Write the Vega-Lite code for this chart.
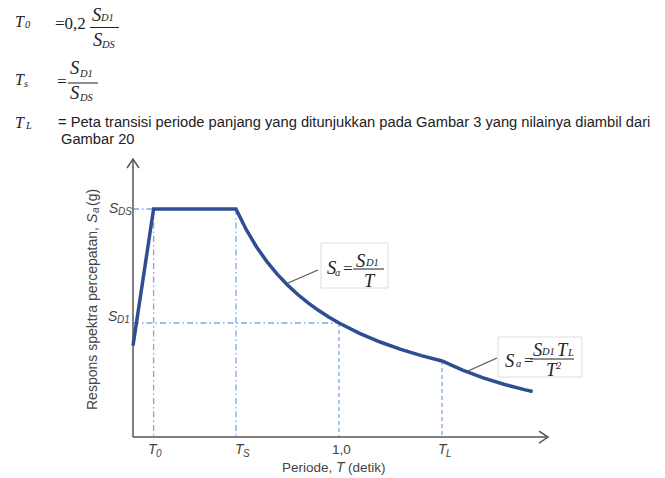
{
  "$schema": "https://vega.github.io/schema/vega-lite/v6.json",
  "width": 665,
  "height": 478,
  "autosize": {"type": "none"},
  "padding": 0,
  "background": "white",
  "config": {"view": {"stroke": null}},
  "encoding": {
    "x": {"field": "T", "type": "quantitative", "scale": {"domain": [-0.6456, 2.5825], "nice": false, "zero": false}, "axis": null},
    "y": {"field": "S", "type": "quantitative", "scale": {"domain": [-0.1798, 1.9167], "nice": false, "zero": false}, "axis": null}
  },
  "layer": [
    {
      "data": {"values": [
        {"T": 0, "S": 1, "T2": 0.1, "S2": 1},
        {"T": 0.1, "S": 1, "T2": 0.1, "S2": 0},
        {"T": 0.5, "S": 1, "T2": 0.5, "S2": 0},
        {"T": 0, "S": 0.5, "T2": 1.0, "S2": 0.5}
      ]},
      "mark": {"type": "rule", "color": "#7fa7e3", "strokeWidth": 1.3, "strokeDash": [6, 3, 1.5, 3]},
      "encoding": {"x2": {"field": "T2"}, "y2": {"field": "S2"}}
    },
    {
      "data": {"values": [
        {"T": 1.0, "S": 0.5, "T2": 1.0, "S2": 0},
        {"T": 1.5, "S": 0.3333, "T2": 1.5, "S2": 0}
      ]},
      "mark": {"type": "rule", "color": "#7fa7e3", "strokeWidth": 1.3, "strokeDash": [4, 3]},
      "encoding": {"x2": {"field": "T2"}, "y2": {"field": "S2"}}
    },
    {
      "data": {"values": [
        {"T": 0, "S": 0, "T2": 0, "S2": 1.2193},
        {"T": 0, "S": 0, "T2": 2.0146, "S2": 0}
      ]},
      "mark": {"type": "rule", "color": "#555555", "strokeWidth": 1.5},
      "encoding": {"x2": {"field": "T2"}, "y2": {"field": "S2"}}
    },
    {
      "data": {"values": [{"T": 0, "S": 1.2193}]},
      "mark": {"type": "point", "shape": "M-0.6,0.9L0,0L0.6,0.9", "size": 400, "filled": false, "color": "#555555", "strokeWidth": 1.5, "opacity": 1}
    },
    {
      "data": {"values": [{"T": 2.0146, "S": 0}]},
      "mark": {"type": "point", "shape": "M-0.9,-0.6L0,0L-0.9,0.6", "size": 400, "filled": false, "color": "#555555", "strokeWidth": 1.5, "opacity": 1}
    },
    {
      "data": {"values": [
        {"T": 0, "S": 0.4}, {"T": 0.1, "S": 1.0}, {"T": 0.5, "S": 1.0},
        {"T": 0.55, "S": 0.9091}, {"T": 0.6, "S": 0.8333}, {"T": 0.65, "S": 0.7692},
        {"T": 0.7, "S": 0.7143}, {"T": 0.75, "S": 0.6667}, {"T": 0.8, "S": 0.625},
        {"T": 0.85, "S": 0.5882}, {"T": 0.9, "S": 0.5556}, {"T": 0.95, "S": 0.5263},
        {"T": 1.0, "S": 0.5}, {"T": 1.1, "S": 0.4545}, {"T": 1.2, "S": 0.4167},
        {"T": 1.3, "S": 0.3846}, {"T": 1.4, "S": 0.3571}, {"T": 1.5, "S": 0.3333},
        {"T": 1.6, "S": 0.293}, {"T": 1.7, "S": 0.2595}, {"T": 1.8, "S": 0.2315},
        {"T": 1.9, "S": 0.2078}, {"T": 1.94, "S": 0.1993}
      ]},
      "mark": {"type": "line", "color": "#2f4e92", "strokeWidth": 3.5, "strokeJoin": "miter"}
    },
    {
      "data": {"values": [
        {"T": 0.7524, "S": 0.6754, "T2": 0.8981, "S2": 0.7325},
        {"T": 1.6262, "S": 0.2895, "T2": 1.7670, "S2": 0.3465}
      ]},
      "mark": {"type": "rule", "color": "#555555", "strokeWidth": 1.3},
      "encoding": {"x2": {"field": "T2"}, "y2": {"field": "S2"}}
    },
    {
      "data": {"values": [
        {"T": 0.9126, "S": 0.8509, "T2": 1.2379, "S2": 0.6535},
        {"T": 1.7718, "S": 0.4386, "T2": 2.1796, "S2": 0.2632}
      ]},
      "mark": {"type": "rect", "fill": "white", "stroke": "#dddddd", "strokeWidth": 1},
      "encoding": {"x2": {"field": "T2"}, "y2": {"field": "S2"}}
    },
    {
      "data": {"values": [
        {"T": -0.2087, "S": 1.7961, "T2": -0.0680, "S2": 1.7961},
        {"T": -0.3155, "S": 1.5526, "T2": -0.1699, "S2": 1.5526},
        {"T": 1.0680, "S": 0.7368, "T2": 1.2184, "S2": 0.7368},
        {"T": 1.9272, "S": 0.3421, "T2": 2.1408, "S2": 0.3421}
      ]},
      "mark": {"type": "rule", "color": "#222222", "strokeWidth": 1},
      "encoding": {"x2": {"field": "T2"}, "y2": {"field": "S2"}}
    },
    {
      "data": {"values": [
        {"T": -0.5728, "S": 1.8202, "label": "T"},
        {"T": -0.5728, "S": 1.5658, "label": "T"},
        {"T": -0.5728, "S": 1.3772, "label": "T"}
      ]},
      "mark": {"type": "text", "font": "Liberation Serif", "fontStyle": "italic", "fontSize": 16, "align": "left", "baseline": "middle", "color": "#222222"},
      "encoding": {"text": {"field": "label"}}
    },
    {
      "data": {"values": [
        {"T": -0.5243, "S": 1.8070, "label": "0"},
        {"T": -0.5291, "S": 1.5482, "label": "s"},
        {"T": -0.5194, "S": 1.3640, "label": "L"},
        {"T": -0.1553, "S": 1.8377, "label": "D1"},
        {"T": -0.1505, "S": 1.7193, "label": "DS"},
        {"T": -0.2573, "S": 1.5921, "label": "D1"},
        {"T": -0.2573, "S": 1.4868, "label": "DS"},
        {"T": 0.9806, "S": 0.7193, "label": "a"},
        {"T": 1.1311, "S": 0.7632, "label": "D1"},
        {"T": 1.8592, "S": 0.3202, "label": "a"},
        {"T": 1.9854, "S": 0.3728, "label": "D1"},
        {"T": 2.1117, "S": 0.3684, "label": "L"},
        {"T": 2.0534, "S": 0.3114, "label": "2"}
      ]},
      "mark": {"type": "text", "font": "Liberation Serif", "fontStyle": "italic", "fontSize": 10.5, "align": "left", "baseline": "middle", "color": "#222222"},
      "encoding": {"text": {"field": "label"}}
    },
    {
      "data": {"values": [
        {"T": -0.1990, "S": 1.8509, "label": "S"},
        {"T": -0.1942, "S": 1.7412, "label": "S"},
        {"T": -0.3058, "S": 1.6184, "label": "S"},
        {"T": -0.3058, "S": 1.5088, "label": "S"},
        {"T": 0.9417, "S": 0.7412, "label": "S"},
        {"T": 1.0825, "S": 0.7719, "label": "S"},
        {"T": 1.1214, "S": 0.6842, "label": "T"},
        {"T": 1.8058, "S": 0.3333, "label": "S"},
        {"T": 1.9417, "S": 0.3816, "label": "S"},
        {"T": 2.0583, "S": 0.3816, "label": "T"},
        {"T": 2.0049, "S": 0.2939, "label": "T"}
      ]},
      "mark": {"type": "text", "font": "Liberation Serif", "fontStyle": "italic", "fontSize": 18.5, "align": "left", "baseline": "middle", "color": "#222222"},
      "encoding": {"text": {"field": "label"}}
    },
    {
      "data": {"values": [
        {"T": -0.3786, "S": 1.8114, "label": "=0,2"},
        {"T": -0.3689, "S": 1.5570, "label": "="},
        {"T": 1.0194, "S": 0.7368, "label": "="},
        {"T": 1.8981, "S": 0.3333, "label": "="}
      ]},
      "mark": {"type": "text", "font": "Liberation Serif", "fontSize": 17, "align": "left", "baseline": "middle", "color": "#222222"},
      "encoding": {"text": {"field": "label"}}
    },
    {
      "data": {"values": [
        {"T": -0.3641, "S": 1.3772, "label": "= Peta transisi periode panjang yang ditunjukkan pada Gambar 3 yang nilainya diambil dari"},
        {"T": -0.3495, "S": 1.3026, "label": "Gambar 20"}
      ]},
      "mark": {"type": "text", "font": "Liberation Sans", "fontSize": 14.7, "align": "left", "baseline": "middle", "color": "#222222"},
      "encoding": {"text": {"field": "label"}}
    },
    {
      "data": {"values": [
        {"T": 0.0728, "S": -0.0570, "label": "T"},
        {"T": 0.4951, "S": -0.0570, "label": "T"},
        {"T": 1.4806, "S": -0.0570, "label": "T"},
        {"T": -0.1165, "S": 1.0, "label": "S"},
        {"T": -0.1214, "S": 0.5263, "label": "S"},
        {"T": 0.9854, "S": -0.1360, "label": "T"}
      ]},
      "mark": {"type": "text", "font": "Liberation Sans", "fontStyle": "italic", "fontSize": 14, "align": "left", "baseline": "middle", "color": "#444444"},
      "encoding": {"text": {"field": "label"}}
    },
    {
      "data": {"values": [
        {"T": 0.1117, "S": -0.0746, "label": "0"},
        {"T": 0.5340, "S": -0.0746, "label": "S"},
        {"T": 1.5194, "S": -0.0746, "label": "L"},
        {"T": -0.0728, "S": 0.9868, "label": "DS"},
        {"T": -0.0777, "S": 0.5132, "label": "D1"}
      ]},
      "mark": {"type": "text", "font": "Liberation Sans", "fontStyle": "italic", "fontSize": 10, "align": "left", "baseline": "middle", "color": "#444444"},
      "encoding": {"text": {"field": "label"}}
    },
    {
      "data": {"values": [
        {"T": 0.7233, "S": -0.1360, "label": "Periode,"},
        {"T": 1.0437, "S": -0.1360, "label": "(detik)"},
        {"T": 0.9660, "S": -0.0570, "label": "1,0"}
      ]},
      "mark": {"type": "text", "font": "Liberation Sans", "fontSize": 13.5, "align": "left", "baseline": "middle", "color": "#444444"},
      "encoding": {"text": {"field": "label"}}
    },
    {
      "data": {"values": [
        {"T": -0.1942, "S": 0.1184, "label": "Respons spektra percepatan,"},
        {"T": -0.1942, "S": 1.0132, "label": "(g)"}
      ]},
      "mark": {"type": "text", "font": "Liberation Sans", "fontSize": 14, "angle": 270, "align": "left", "baseline": "middle", "color": "#444444"},
      "encoding": {"text": {"field": "label"}}
    },
    {
      "data": {"values": [{"T": -0.1942, "S": 0.9386, "label": "S"}]},
      "mark": {"type": "text", "font": "Liberation Sans", "fontStyle": "italic", "fontSize": 14, "angle": 270, "align": "left", "baseline": "middle", "color": "#444444"},
      "encoding": {"text": {"field": "label"}}
    },
    {
      "data": {"values": [{"T": -0.1772, "S": 0.9825, "label": "a"}]},
      "mark": {"type": "text", "font": "Liberation Sans", "fontStyle": "italic", "fontSize": 10, "angle": 270, "align": "left", "baseline": "middle", "color": "#444444"},
      "encoding": {"text": {"field": "label"}}
    }
  ]
}
